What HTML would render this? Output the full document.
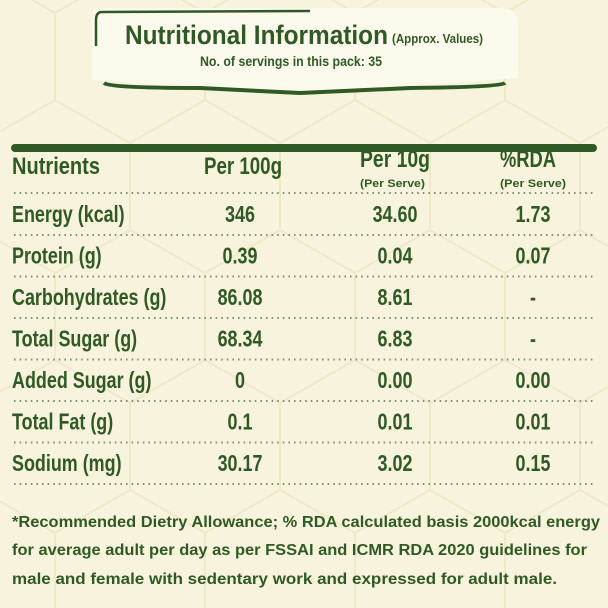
<!DOCTYPE html>
<html><head><meta charset="utf-8">
<style>
html,body{margin:0;padding:0;background:#f8f3dc;}
svg{display:block;}
text{font-family:"Liberation Sans Narrow","Liberation Sans",sans-serif;font-weight:bold;fill:#2f5a25;}
</style></head>
<body>
<svg width="608" height="608" viewBox="0 0 608 608">
<defs>
<pattern id="hex" width="150" height="260" patternUnits="userSpaceOnUse" x="-20" y="-30">
<path d="M0,0 L75,43 L75,130 L0,173 M75,43 L150,0 M75,130 L150,173 M0,173 L0,260 M150,173 L150,260" fill="none" stroke="#efe8c9" stroke-width="2"/>
</pattern>
</defs>
<rect width="608" height="608" fill="#f8f3dc"/>
<rect width="608" height="608" fill="url(#hex)"/>

<g>
<path d="M100,8 L500,8 Q518,8 518,24 L518,78 L300,94 L92,80 L92,18 Q92,8 100,8 Z" fill="#fcfaec"/>
<path d="M310,11 L102,12 Q96,12 96,20 L96,46" fill="none" stroke="#2f5a25" stroke-width="2.5"/>
<path d="M104,83 Q110,88 200,88 L300,93 L410,88 Q500,87 505,83" fill="none" stroke="#2f5a25" stroke-width="4"/>
<text x="125" y="44" font-size="27" textLength="263" lengthAdjust="spacingAndGlyphs">Nutritional Information</text>
<text x="392" y="43" font-size="13" textLength="91" lengthAdjust="spacingAndGlyphs">(Approx. Values)</text>
<text x="200" y="66" font-size="14" textLength="182" lengthAdjust="spacingAndGlyphs">No. of servings in this pack: 35</text>
</g>

<line x1="15" y1="148" x2="593" y2="148" stroke="#2f5a25" stroke-width="8" stroke-linecap="round"/>

<g>
<text x="12" y="174" font-size="24" textLength="88" lengthAdjust="spacingAndGlyphs">Nutrients</text>
<text x="204" y="174" font-size="24" textLength="78" lengthAdjust="spacingAndGlyphs">Per 100g</text>
<text x="360" y="167" font-size="24" textLength="70" lengthAdjust="spacingAndGlyphs">Per 10g</text>
<text x="360" y="187" font-size="11" textLength="65" lengthAdjust="spacingAndGlyphs">(Per Serve)</text>
<text x="500" y="167" font-size="24" textLength="56" lengthAdjust="spacingAndGlyphs">%RDA</text>
<text x="500" y="187" font-size="11" textLength="66" lengthAdjust="spacingAndGlyphs">(Per Serve)</text>
</g>
<g id="rows"></g>

<g>
<text x="12" y="527" font-size="16" textLength="588" lengthAdjust="spacingAndGlyphs">*Recommended Dietry Allowance; % RDA calculated basis 2000kcal energy</text>
<text x="12" y="555" font-size="16" textLength="575" lengthAdjust="spacingAndGlyphs">for average adult per day as per FSSAI and ICMR RDA 2020 guidelines for</text>
<text x="12" y="584" font-size="16" textLength="545" lengthAdjust="spacingAndGlyphs">male and female with sedentary work and expressed for adult male.</text>
</g>
</svg>
<script>
const nutrients = ["Energy (kcal)","Protein (g)","Carbohydrates (g)","Total Sugar (g)","Added Sugar (g)","Total Fat (g)","Sodium (mg)"];
const per100g = ["346","0.39","86.08","68.34","0","0.1","30.17"];
const per10g = ["34.60","0.04","8.61","6.83","0.00","0.01","3.02"];
const rda = ["1.73","0.07","-","-","0.00","0.01","0.15"];
const NS="http://www.w3.org/2000/svg";
const g=document.getElementById('rows');
const SX=0.78;
function dotted(y){
  const l=document.createElementNS(NS,'line');
  l.setAttribute('x1',14);l.setAttribute('x2',596);l.setAttribute('y1',y);l.setAttribute('y2',y);
  l.setAttribute('stroke','#7d9672');l.setAttribute('stroke-width','2');l.setAttribute('stroke-dasharray','1.6 4');
  
  
  g.appendChild(l);
}
function txt(x,y,s,anchor){
  const t=document.createElementNS(NS,'text');
  t.setAttribute('x',0);t.setAttribute('y',0);t.setAttribute('font-size','23');
  t.setAttribute('transform','translate('+x+','+y+') scale('+SX+',1)');
  if(anchor)t.setAttribute('text-anchor',anchor);
  t.textContent=s;
  g.appendChild(t);return t;
}
const rowY=i=>214+i*41.5;
dotted(193);
nutrients.forEach((n,i)=>{
  const y=rowY(i)+8;
  const a=txt(12,y,n,null);
  
  
  const b=txt(240,y,per100g[i],'middle');
  
  
  const c=txt(395,y,per10g[i],'middle');
  
  
  const d=txt(533,y,rda[i],'middle');
  
  
  dotted(rowY(i)+21);
});
</script>
</body></html>
